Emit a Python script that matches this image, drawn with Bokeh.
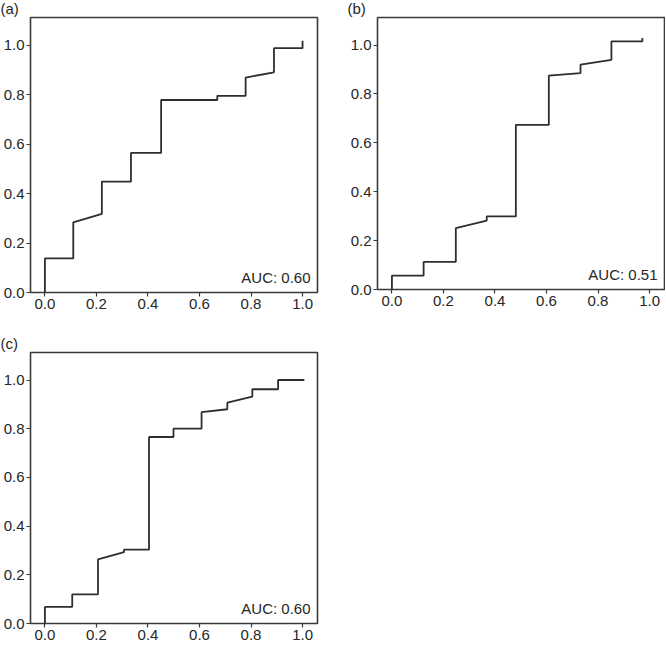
from bokeh.plotting import figure
from bokeh.models import Label, FixedTicker, Range1d
from bokeh.layouts import column, row
from bokeh.embed import file_html
from bokeh.resources import INLINE

# ---- data ----
panel_tags = ["(a)", "(b)", "(c)"]
auc_texts = ["AUC: 0.60", "AUC: 0.51", "AUC: 0.60"]

fpr_a = [0.0, 0.0, 0.110, 0.110, 0.221, 0.221, 0.334, 0.334, 0.451, 0.451,
         0.669, 0.669, 0.779, 0.779, 0.889, 0.889, 1.0, 1.0]
tpr_a = [0.0, 0.138, 0.138, 0.284, 0.318, 0.449, 0.449, 0.565, 0.565, 0.779,
         0.779, 0.796, 0.796, 0.870, 0.891, 0.989, 0.989, 1.019]

fpr_b = [0.0, 0.0, 0.123, 0.123, 0.248, 0.248, 0.368, 0.368, 0.481, 0.481,
         0.609, 0.609, 0.732, 0.732, 0.852, 0.852, 0.972, 0.972]
tpr_b = [0.0, 0.057, 0.057, 0.113, 0.113, 0.251, 0.282, 0.299, 0.299, 0.674,
         0.674, 0.875, 0.885, 0.920, 0.940, 1.015, 1.015, 1.029]

fpr_c = [0.0, 0.0, 0.106, 0.106, 0.206, 0.206, 0.307, 0.307, 0.404, 0.404,
         0.499, 0.499, 0.608, 0.608, 0.708, 0.708, 0.805, 0.805, 0.905, 0.905, 1.007]
tpr_c = [0.0, 0.068, 0.068, 0.120, 0.120, 0.263, 0.293, 0.303, 0.303, 0.766,
         0.766, 0.800, 0.800, 0.868, 0.880, 0.907, 0.932, 0.962, 0.962, 1.0, 1.0]

tick_values = [0.0, 0.2, 0.4, 0.6, 0.8, 1.0]
tick_labels = ["0.0", "0.2", "0.4", "0.6", "0.8", "1.0"]

x_span = (-0.056, 1.058)
y_span = (0.0, 1.113)

FONT = "Liberation Sans"
INK = "#2e2e2e"
TEXT = "#262626"


def make_panel(fpr, tpr, tag, auc, frame_w, frame_h, mbl, mbr, mbt, mbb):
    p = figure(frame_width=frame_w, frame_height=frame_h,
               x_range=Range1d(*x_span), y_range=Range1d(*y_span),
               output_backend="svg", toolbar_location=None,
               min_border_left=mbl, min_border_right=mbr,
               min_border_top=mbt, min_border_bottom=mbb,
               background_fill_color="white", border_fill_color="white")
    p.line(fpr, tpr, line_color=INK, line_width=1.8)
    p.xgrid.visible = False
    p.ygrid.visible = False
    p.outline_line_color = "#3a3a3a"
    p.outline_line_width = 1.6
    p.outline_line_alpha = 1.0
    for ax in (p.xaxis[0], p.yaxis[0]):
        ax.ticker = FixedTicker(ticks=tick_values)
        ax.major_label_overrides = dict(zip(tick_values, tick_labels))
        ax.major_tick_out = 4
        ax.major_tick_in = 0
        ax.minor_tick_out = 0
        ax.minor_tick_in = 0
        ax.major_tick_line_color = "#3a3a3a"
        ax.major_tick_line_width = 1.2
        ax.axis_line_color = None
        ax.major_label_text_font = FONT
        ax.major_label_text_font_size = "15px"
        ax.major_label_text_color = TEXT
        ax.major_label_standoff = 2
    # panel tag as the figure title, pushed to the left edge of the figure
    p.title.text = tag
    p.title.align = "left"
    p.title.vertical_align = "top"
    p.title.offset = -mbl
    p.title.standoff = -2
    p.title.text_font = FONT
    p.title.text_font_size = "15px"
    p.title.text_font_style = "normal"
    p.title.text_color = TEXT
    p.add_layout(Label(x=frame_w - 7, y=7, x_units="screen", y_units="screen",
                       text=auc, text_font=FONT, text_font_size="15px",
                       text_color=TEXT, text_align="right",
                       text_baseline="bottom"))
    return p


fa = make_panel(fpr_a, tpr_a, panel_tags[0], auc_texts[0], 287, 275,
                30, 30, 17, 0)
fb = make_panel(fpr_b, tpr_b, panel_tags[1], auc_texts[1], 287, 272,
                30, 1, 17, 0)
fc = make_panel(fpr_c, tpr_c, panel_tags[2], auc_texts[2], 287, 271,
                30, 30, 41, 0)

layout = column(row(fa, fb), fc)

open("out.html", "w").write(file_html(layout, INLINE))
